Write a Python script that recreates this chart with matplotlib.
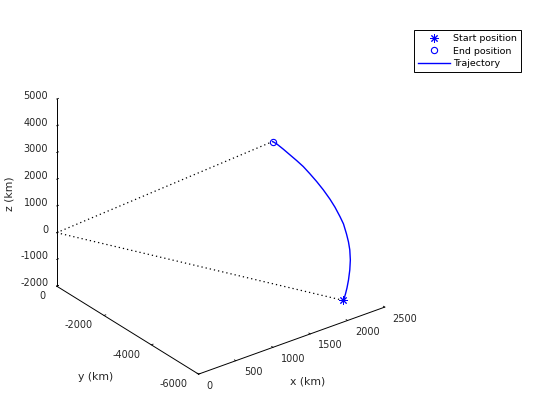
import matplotlib
matplotlib.use('Agg')
import matplotlib.pyplot as plt
from matplotlib.transforms import offset_copy

# Trajectory samples (km), start -> end
traj_x = [1978, 2011, 2039, 2069, 2099, 2119, 2126, 2121, 2107, 2084, 2053,
          2005, 1955, 1888, 1818, 1747, 1676, 1603, 1529, 1455, 1382, 1338]
traj_y = [-5900, -5880, -5855, -5825, -5785, -5745, -5700, -5660, -5620, -5565, -5515,
          -5455, -5400, -5330, -5270, -5210, -5150, -5100, -5050, -5000, -4950, -4920]
traj_z = [-1282, -1083, -901, -648, -325, 7, 350, 632, 924, 1291, 1568,
          1935, 2255, 2632, 2980, 3306, 3618, 3888, 4148, 4409, 4653, 4767]
origin = [0, 0, 0]

x_ticks = [0, 500, 1000, 1500, 2000, 2500]
y_ticks = [-6000, -4000, -2000, 0]
z_ticks = [-2000, -1000, 0, 1000, 2000, 3000, 4000, 5000]
x_lim = (0, 2500)
y_lim = (-6000, 0)
z_lim = (-2000, 5000)

axcol = '#262626'
blue = '#0000ff'

fig = plt.figure(figsize=(5.6, 4.2), dpi=100)
ax = fig.add_axes([0.009, 0.003, 0.75, 1.0], projection='3d', proj_type='ortho')
ax.view_init(elev=28.2, azim=-127.3)
ax.set_box_aspect((1, 1, 0.907), zoom=0.909)

dots = (0, (1, 2.4))
ax.plot([origin[0], traj_x[0]], [origin[1], traj_y[0]], [origin[2], traj_z[0]],
        color='k', linestyle=dots, linewidth=0.9)
ax.plot([origin[0], traj_x[-1]], [origin[1], traj_y[-1]], [origin[2], traj_z[-1]],
        color='k', linestyle=dots, linewidth=0.9)
h3, = ax.plot(traj_x, traj_y, traj_z, color=blue, linewidth=1.0, label='Trajectory')
h1, = ax.plot([traj_x[0]], [traj_y[0]], [traj_z[0]], linestyle='none',
              marker=(8, 2, 0), markersize=6, color=blue, markeredgewidth=0.7,
              label='Start position')
h2, = ax.plot([traj_x[-1]], [traj_y[-1]], [traj_z[-1]], linestyle='none',
              marker='o', markersize=4.5, markerfacecolor='none', markeredgecolor=blue,
              markeredgewidth=0.8, label='End position')

ax.set_xlim(*x_lim)
ax.set_ylim(*y_lim)
ax.set_zlim(*z_lim)
ax.set_xticks(x_ticks)
ax.set_yticks(y_ticks)
ax.set_zticks(z_ticks)
ax.set_xticklabels([''] * len(x_ticks))
ax.set_yticklabels([''] * len(y_ticks))
ax.set_zticklabels([''] * len(z_ticks))
ax.grid(False)
for axis in (ax.xaxis, ax.yaxis, ax.zaxis):
    axis.pane.set_visible(False)
    axis.line.set_color('k')
    axis.line.set_linewidth(0.7)
    axis._axinfo['tick']['inward_factor'] = 0.0
    axis._axinfo['tick']['outward_factor'] = 0.12
    axis._axinfo['tick']['linewidth'] = {True: 0.6, False: 0.4}
    axis._axinfo['tick']['color'] = 'k'
ax.tick_params(colors='k')

tfs = 7
# tick labels placed at the tick positions with small pixel offsets
tr_x = offset_copy(ax.transData, fig=fig, x=8, y=-6.5, units='dots')
for v in x_ticks:
    ax.text(v, y_lim[0], z_lim[0], str(v), transform=tr_x, ha='left', va='top',
            fontsize=tfs, color=axcol)
tr_y = offset_copy(ax.transData, fig=fig, x=-11, y=-5, units='dots')
for v in y_ticks:
    ax.text(x_lim[0], v, z_lim[0], str(v), transform=tr_y, ha='right', va='top',
            fontsize=tfs, color=axcol)
tr_z = offset_copy(ax.transData, fig=fig, x=-8.5, y=3, units='dots')
for v in z_ticks:
    ax.text(x_lim[0], y_lim[1], v, str(v), transform=tr_z, ha='right', va='center',
            fontsize=tfs, color=axcol)

lfs = 7.8
fig.text(308 / 560, 1 - 382 / 420, 'x (km)', ha='center', va='center', fontsize=lfs, color=axcol)
fig.text(95.5 / 560, 1 - 377.5 / 420, 'y (km)', ha='center', va='center', fontsize=lfs, color=axcol)
fig.text(9.7 / 560, 1 - 194 / 420, 'z (km)', ha='center', va='center', rotation=90,
         fontsize=lfs, color=axcol)

leg = fig.legend(handles=[h1, h2, h3], loc='upper right',
                 bbox_to_anchor=(521 / 560, 1 - 30 / 420),
                 fontsize=6.8, frameon=True, fancybox=False, edgecolor='k', framealpha=1,
                 handlelength=3.3, handletextpad=0.35, labelspacing=0.37, borderpad=0.45,
                 borderaxespad=0.0)
leg.get_frame().set_linewidth(0.7)

fig.savefig('out.png', dpi=100)
